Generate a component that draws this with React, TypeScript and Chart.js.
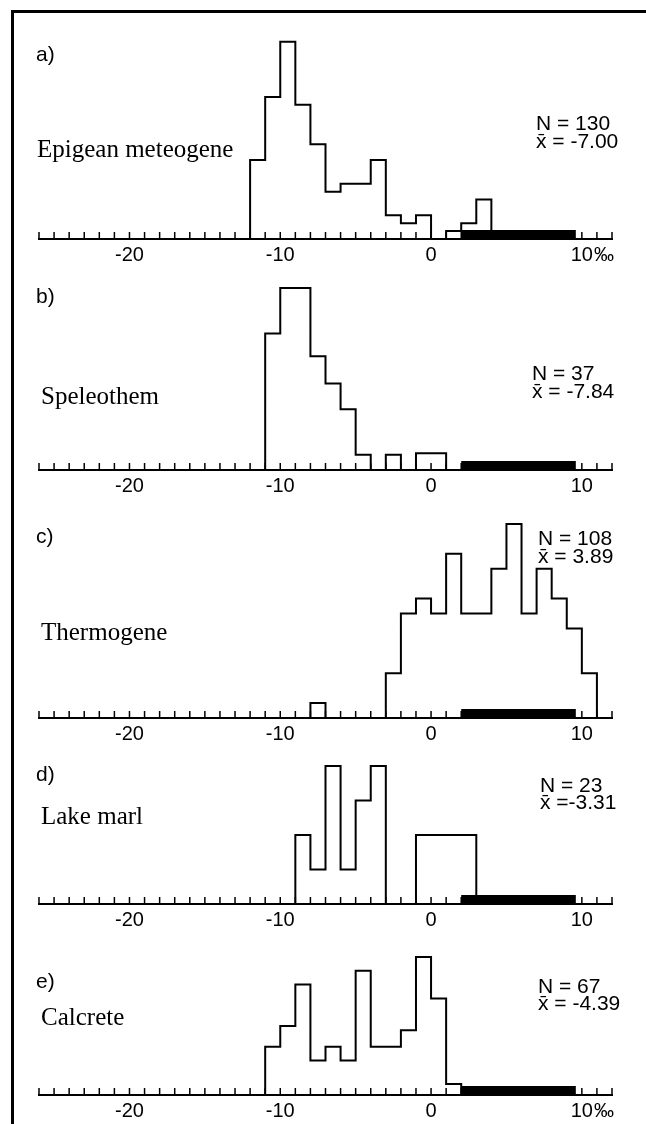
import React, { useEffect, useRef } from 'react';
import { Chart, registerables } from 'chart.js';

Chart.register(...registerables);

// ---------- data ----------
const X_MIN = -26;
const X_MAX = 12;
const MARINE_RANGE = [2, 9.6];
const X_LABELS = [-20, -10, 0, 10];

const epigeanBins = [-12, -11, -10, -9, -8, -7, -6, -5, -4, -3, -2, -1, 0, 1, 2, 3];
const epigeanCounts = [10, 18, 25, 17, 12, 6, 7, 7, 10, 3, 2, 3, 0, 1, 2, 5];

const speleothemBins = [-11, -10, -9, -8, -7, -6, -5, -4, -3, -2, -1, 0];
const speleothemCounts = [9, 12, 12, 7.5, 5.7, 4, 1, 0, 1, 0, 1.1, 1.1];

const thermogeneBins = [-8, -7, -6, -5, -4, -3, -2, -1, 0, 1, 2, 3, 4, 5, 6, 7, 8, 9, 10];
const thermogeneCounts = [1, 0, 0, 0, 0, 3, 7, 8, 7, 11, 7, 7, 10, 13, 7, 10, 8, 6, 3];

const lakeMarlBins = [-9, -8, -7, -6, -5, -4, -3, -2, -1, 0, 1, 2];
const lakeMarlCounts = [2, 1, 4, 1, 3, 4, 0, 0, 2, 2, 2, 2];

const calcreteBins = [-11, -10, -9, -8, -7, -6, -5, -4, -3, -2, -1, 0, 1];
const calcreteCounts = [3.5, 5, 8, 2.5, 3.5, 2.5, 9, 3.5, 3.5, 4.7, 10, 7, 0.8];

const panelLetters = ['a)', 'b)', 'c)', 'd)', 'e)'];
const panelNames = ['Epigean meteogene', 'Speleothem', 'Thermogene', 'Lake marl', 'Calcrete'];
const panelN = ['N = 130', 'N = 37', 'N = 108', 'N = 23', 'N = 67'];
const panelMean = ['x\u0304 = -7.00', 'x\u0304 = -7.84', 'x\u0304 = 3.89', 'x\u0304 =-3.31', 'x\u0304 = -4.39'];

// ---------- layout (page pixel coordinates) ----------
const W = 646;
const LEFT_PX = 39;
const RIGHT_PX = 612;
const AXIS_FONT = 20;
const TICK_PAD = 6;
const AXIS_H = AXIS_FONT + TICK_PAD * 2;

type Layout = {
  top: number;
  chartTop: number;
  axisY: number;
  letter: [number, number];
  name: [number, number];
  stat: [number, number, number];
  permil: boolean;
};

const layouts: Layout[] = [
  { top: 13, chartTop: 41.7, axisY: 239, letter: [36, 55], name: [37, 150], stat: [536, 124, 142], permil: true },
  { top: 271, chartTop: 288, axisY: 470, letter: [36, 297], name: [41, 397], stat: [532, 374, 392], permil: false },
  { top: 502, chartTop: 524, axisY: 718, letter: [36, 537], name: [41, 633], stat: [538, 539, 557], permil: false },
  { top: 750, chartTop: 766, axisY: 904, letter: [36, 775], name: [41, 817], stat: [540, 786, 803], permil: false },
  { top: 936, chartTop: 957, axisY: 1095, letter: [36, 982], name: [41, 1018], stat: [538, 987, 1004], permil: true },
];

const series = [
  { bins: epigeanBins, counts: epigeanCounts },
  { bins: speleothemBins, counts: speleothemCounts },
  { bins: thermogeneBins, counts: thermogeneCounts },
  { bins: lakeMarlBins, counts: lakeMarlCounts },
  { bins: calcreteBins, counts: calcreteCounts },
];

function stepPoints(bins: number[], counts: number[]) {
  const pts: { x: number; y: number }[] = [{ x: bins[0], y: 0 }];
  bins.forEach((b, i) => pts.push({ x: b, y: counts[i] }));
  pts.push({ x: bins[bins.length - 1] + 1, y: 0 });
  return pts;
}

const SANS = '"Liberation Sans", Arial, sans-serif';
const SERIF = '"Liberation Serif", "Times New Roman", serif';

function Panel({ idx }: { idx: number }) {
  const ref = useRef<HTMLCanvasElement | null>(null);
  const lay = layouts[idx];
  const H = lay.axisY - lay.top + AXIS_H;

  useEffect(() => {
    const canvas = ref.current;
    if (!canvas) return;
    const s = series[idx];
    const yMax = Math.max(...s.counts);

    const deco = {
      id: 'deco' + idx,
      afterDraw(chart: any) {
        const { ctx } = chart;
        const x = chart.scales.x;
        const axisY = chart.chartArea.bottom;
        ctx.save();
        // upward tick marks
        ctx.strokeStyle = '#000';
        ctx.lineWidth = 1.5;
        x.ticks.forEach((t: any) => {
          const px = x.getPixelForValue(t.value);
          ctx.beginPath();
          ctx.moveTo(px, axisY);
          ctx.lineTo(px, axisY - 7);
          ctx.stroke();
        });
        // marine carbonate range bar
        const x0 = x.getPixelForValue(MARINE_RANGE[0]);
        const x1 = x.getPixelForValue(MARINE_RANGE[1]);
        ctx.fillStyle = '#000';
        ctx.fillRect(x0, axisY - 9, x1 - x0, 10);
        // texts
        const dy = -lay.top;
        ctx.textBaseline = 'middle';
        ctx.textAlign = 'left';
        ctx.font = `21px ${SANS}`;
        ctx.fillText(panelLetters[idx], lay.letter[0], lay.letter[1] + dy);
        ctx.fillText(panelN[idx], lay.stat[0], lay.stat[1] + dy);
        ctx.fillText(panelMean[idx], lay.stat[0], lay.stat[2] + dy);
        if (lay.permil) {
          ctx.font = `${AXIS_FONT}px ${SANS}`;
          const w10 = ctx.measureText('10').width;
          const px10 = x.getPixelForValue(10);
          ctx.fillText('\u2030', px10 + w10 / 2 + 1, axisY + TICK_PAD + AXIS_FONT / 2);
        }
        ctx.font = `25px ${SERIF}`;
        ctx.fillText(panelNames[idx], lay.name[0], lay.name[1] + dy);
        ctx.restore();
      },
    };

    const chart = new Chart(canvas, {
      type: 'line',
      data: {
        datasets: [
          {
            data: stepPoints(s.bins, s.counts),
            stepped: 'before',
            borderColor: '#000',
            borderWidth: 2,
            pointRadius: 0,
            fill: false,
            tension: 0,
            clip: false as any,
          },
        ],
      },
      options: {
        animation: false,
        responsive: false,
        events: [],
        layout: {
          padding: { top: lay.chartTop - lay.top, left: LEFT_PX, right: W - RIGHT_PX, bottom: 0 },
        },
        plugins: { legend: { display: false }, tooltip: { enabled: false } },
        scales: {
          x: {
            type: 'linear',
            min: X_MIN,
            max: X_MAX,
            grid: { display: false, drawTicks: false },
            border: { display: true, color: '#000', width: 2 },
            ticks: {
              stepSize: 1,
              autoSkip: false,
              maxRotation: 0,
              padding: TICK_PAD,
              color: '#000',
              font: { family: SANS, size: AXIS_FONT, lineHeight: 1 },
              callback: (v: any) => (X_LABELS.includes(Number(v)) ? String(v) : ''),
            },
          },
          y: { display: false, min: 0, max: yMax },
        },
      },
      plugins: [deco],
    } as any);
    return () => chart.destroy();
  }, [idx]);

  return (
    <canvas
      ref={ref}
      width={W}
      height={H}
      style={{ position: 'absolute', left: 0, top: lay.top, width: W, height: H }}
    />
  );
}

export default function App() {
  return (
    <div
      style={{
        position: 'fixed',
        left: 0,
        top: 0,
        width: W,
        height: 1124,
        overflow: 'hidden',
        background: '#fff',
      }}
    >
      <div style={{ position: 'absolute', left: 11, top: 10, width: W - 11, height: 3, background: '#000' }} />
      <div style={{ position: 'absolute', left: 11, top: 10, width: 3, height: 1114, background: '#000' }} />
      {layouts.map((_, i) => (
        <Panel key={i} idx={i} />
      ))}
    </div>
  );
}
